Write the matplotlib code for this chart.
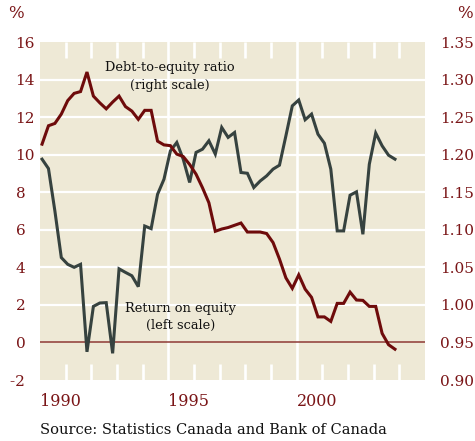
import numpy as np
import matplotlib
matplotlib.use("Agg")
import matplotlib.pyplot as plt
from matplotlib.ticker import FixedLocator, FixedFormatter

# ---- data (quarterly, 1990Q1 - 2003Q4) ----
start_year = 1990
n_quarters = 56

return_on_equity = [9.76, 9.26, 7.0, 4.52, 4.16, 4.0, 4.16, -0.5, 1.92, 2.1,
                    2.12, -0.58, 3.92, 3.73, 3.55, 2.97, 6.2, 6.06, 7.89, 8.69,
                    10.2, 10.65, 9.76, 8.52, 10.12, 10.29, 10.74, 10.03, 11.45, 10.92,
                    11.18, 9.05, 9.01, 8.25, 8.6, 8.87, 9.23, 9.44, 11.0, 12.6,
                    12.91, 11.86, 12.16, 11.09, 10.61, 9.23, 5.94, 5.94, 7.84, 8.02,
                    5.76, 9.49, 11.15, 10.47, 9.97, 9.76]

debt_to_equity = [1.214, 1.2385, 1.2416, 1.254, 1.272, 1.2816, 1.284, 1.310, 1.278, 1.269,
                  1.261, 1.270, 1.278, 1.264, 1.258, 1.247, 1.259, 1.259, 1.218, 1.213,
                  1.212, 1.2007, 1.1975, 1.187, 1.174, 1.156, 1.136, 1.098, 1.101, 1.103,
                  1.106, 1.109, 1.097, 1.097, 1.097, 1.095, 1.083, 1.061, 1.036, 1.022,
                  1.040, 1.021, 1.010, 0.984, 0.984, 0.978, 1.002, 1.002, 1.017, 1.0065,
                  1.006, 0.998, 0.998, 0.962, 0.947, 0.941]

left_ticks = [-2, 0, 2, 4, 6, 8, 10, 12, 14, 16]
right_ticks = [0.90, 0.95, 1.00, 1.05, 1.10, 1.15, 1.20, 1.25, 1.30, 1.35]
year_labels = [1990, 1995, 2000]
minor_years = [y for y in range(1991, 2005) if y not in (1995, 2000)]

# ---- styles ----
BG = "#EEE9D6"
RED = "#6E0B0B"
GRAY = "#36423F"
LABEL = "#7A1517"
ZERO = "#8E3A35"
FONT = "DejaVu Serif"
FIGSP = "\u2007"

x = start_year + np.arange(n_quarters) / 4.0 + 0.08

fig = plt.figure(figsize=(4.75, 4.41), dpi=100)
ax = fig.add_axes([40 / 475, 1 - 380 / 441, 385 / 475, 338 / 441])
ax.set_facecolor(BG)
ax.set_xlim(1990, 2005)
ax.set_ylim(-2, 16)

# gridlines
for v in left_ticks[2:-1]:
    ax.axhline(v, color="white", lw=1.6, zorder=1)
for yv in year_labels[1:]:
    ax.axvline(yv, color="white", lw=1.9, zorder=1)
ax.axhline(0, color=ZERO, lw=1.1, zorder=2)

ax.plot(x, return_on_equity, color=GRAY, lw=2.2, zorder=3, solid_joinstyle="miter")

# x ticks
ax.xaxis.set_major_locator(FixedLocator(year_labels))
ax.xaxis.set_major_formatter(FixedFormatter([str(y) for y in year_labels]))
ax.xaxis.set_minor_locator(FixedLocator(minor_years))
ax.tick_params(axis="x", which="major", length=0, pad=9, labelsize=11.5,
               labelcolor=LABEL)
ax.tick_params(axis="x", which="minor", direction="in", length=11.5, width=1.9,
               color="white", top=True, bottom=True)
for lab in ax.get_xticklabels():
    lab.set_horizontalalignment("left")
    lab.set_fontfamily(FONT)

# left y ticks
ax.yaxis.set_major_locator(FixedLocator(left_ticks))
ax.yaxis.set_major_formatter(FixedFormatter(
    [str(t) if abs(t) >= 10 else str(t) + FIGSP for t in left_ticks]))
ax.tick_params(axis="y", which="major", length=0, pad=3.6, labelsize=11,
               labelcolor=LABEL)
for lab in ax.get_yticklabels():
    lab.set_fontfamily(FONT)

for s in ax.spines.values():
    s.set_visible(False)

# right axis
ax2 = ax.twinx()
ax2.set_ylim(0.90, 1.35)
ax2.plot(x, debt_to_equity, color=RED, lw=2.2, zorder=3, solid_joinstyle="miter")
ax2.yaxis.set_major_locator(FixedLocator(right_ticks))
ax2.yaxis.set_major_formatter(FixedFormatter([f"{t:.2f}" for t in right_ticks]))
ax2.tick_params(axis="y", which="major", length=0, pad=10.8, labelsize=11,
                labelcolor=LABEL)
for lab in ax2.get_yticklabels():
    lab.set_fontfamily(FONT)
for s in ax2.spines.values():
    s.set_visible(False)

# annotations
ax.text(1995.06, 14.16, "Debt-to-equity ratio\n(right scale)", ha="center",
        va="center", fontsize=9.4, family=FONT, color="#111111",
        linespacing=1.45, zorder=5)
ax.text(1995.49, 1.36, "Return on equity\n(left scale)", ha="center",
        va="center", fontsize=9.4, family=FONT, color="#111111",
        linespacing=1.45, zorder=5)

fig.text(16 / 475, 1 - 13 / 441, "%", ha="center", va="center", fontsize=12,
         family=FONT, color=LABEL)
fig.text(465 / 475, 1 - 13 / 441, "%", ha="center", va="center", fontsize=12,
         family=FONT, color=LABEL)
fig.text(40 / 475, 1 - 430 / 441, "Source: Statistics Canada and Bank of Canada",
         ha="left", va="center", fontsize=10.5, family=FONT, color="#111111")

fig.savefig("out.png", dpi=100, facecolor="white")
